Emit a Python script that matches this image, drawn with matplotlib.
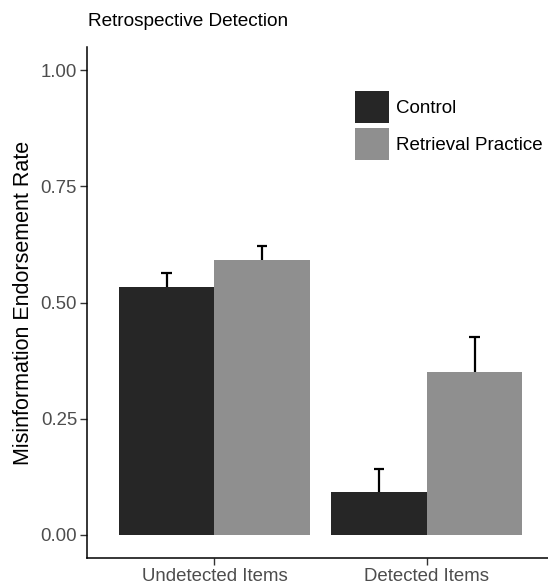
import numpy as np
import matplotlib
matplotlib.use('Agg')
from matplotlib import pyplot as plt
from matplotlib.patches import Patch

plt.rcParams['font.family'] = ['Liberation Sans', 'DejaVu Sans']

groups = ['Undetected Items', 'Detected Items']
conditions = ['Control', 'Retrieval Practice']
control = [0.534, 0.091]
control_se = [0.030, 0.050]
retrieval = [0.591, 0.351]
retrieval_se = [0.030, 0.074]
colors = ['#262626', '#8f8f8f']

fig = plt.figure(figsize=(5.48, 5.85), dpi=100)
ax = fig.add_axes([87 / 548, 1 - 558 / 585, 1 - 87 / 548, (558 - 47) / 585])

x = np.arange(1, len(groups) + 1)
width = 0.45
for i, (vals, errs) in enumerate([(control, control_se), (retrieval, retrieval_se)]):
    pos = x + (i - 0.5) * width
    ax.bar(pos, vals, width, color=colors[i], linewidth=0, zorder=2)
    tops = np.array(vals) + np.array(errs)
    # upper error bar only
    ax.vlines(pos, vals, tops, color='black', linewidth=1.6, zorder=3)
    ax.hlines(tops, pos - 0.025, pos + 0.025, color='black', linewidth=1.6, zorder=3)

ax.set_xlim(0.4, 2.571)
ax.set_ylim(-0.05, 1.05)
ax.set_xticks(x)
ax.set_xticklabels(groups)
ax.set_yticks([0, 0.25, 0.5, 0.75, 1.0])
ax.set_yticklabels(['0.00', '0.25', '0.50', '0.75', '1.00'])
ax.tick_params(axis='both', labelsize=13.4, labelcolor='#4d4d4d', color='#333333',
               length=5, width=1, pad=2.2)

for side in ['top', 'right']:
    ax.spines[side].set_visible(False)
for side in ['left', 'bottom']:
    ax.spines[side].set_linewidth(1.1)
    ax.spines[side].set_color('black')

ax.set_ylabel('Misinformation Endorsement Rate', fontsize=15.5)
ax.yaxis.set_label_coords(-0.115, 0.5)
fig.text(88 / 548, 1 - 22 / 585, 'Retrospective Detection', fontsize=13.7,
         ha='left', va='center')

handles = [Patch(facecolor=c, edgecolor='none') for c in colors]
fig.legend(handles, conditions, loc='upper left', bbox_to_anchor=(355 / 548, 1 - 91 / 585),
           frameon=False, fontsize=13.5, handlelength=1.81, handleheight=2.244,
           labelspacing=0.27, handletextpad=0.37, borderpad=0, borderaxespad=0)

fig.savefig('out.png', dpi=100)
